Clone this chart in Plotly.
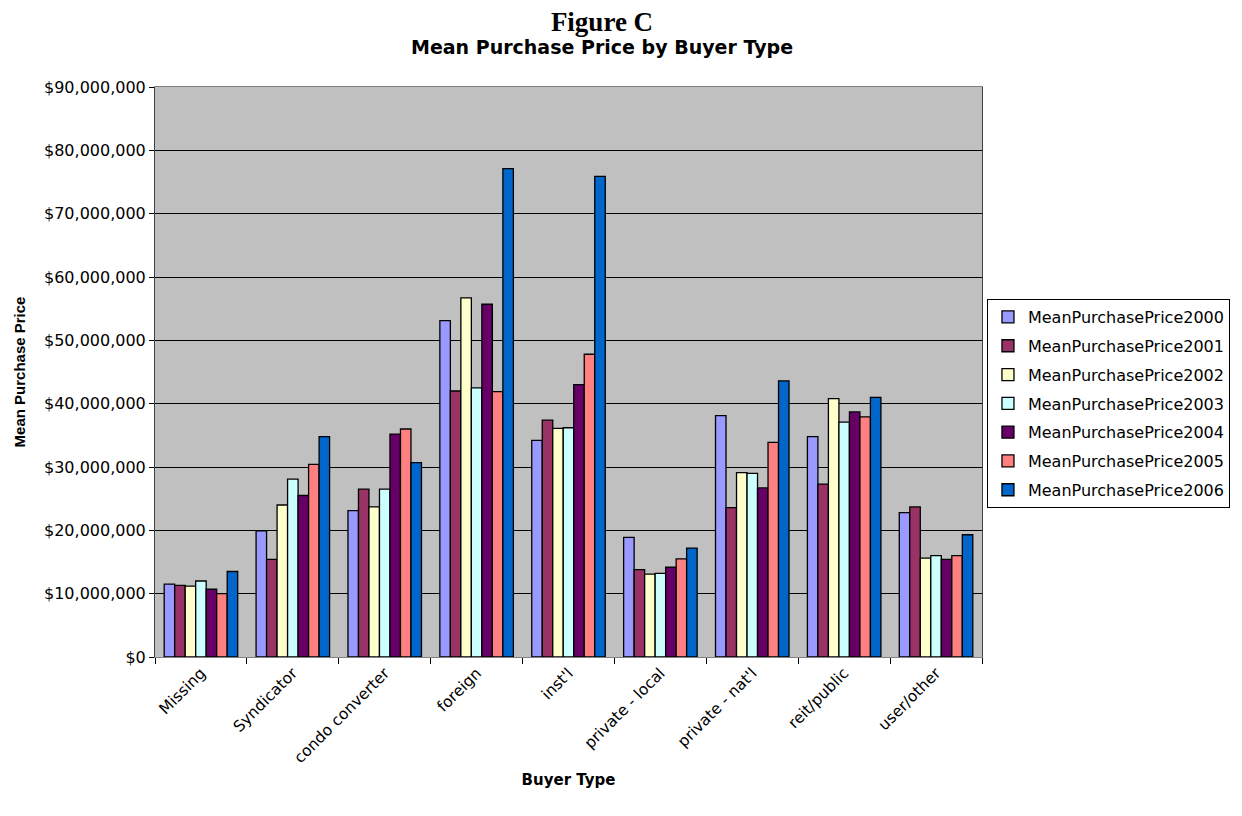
import plotly.graph_objects as go

# Buyer types and mean purchase price per year.
buyer_types = ["Missing", "Syndicator", "condo converter", "foreign", "inst'l",
               "private - local", "private - nat'l", "reit/public", "user/other"]
years = ["2000", "2001", "2002", "2003", "2004", "2005", "2006"]

price_2000 = [11.5e6, 19.9e6, 23.1e6, 53.1e6, 34.2e6, 18.9e6, 38.1e6, 34.8e6, 22.8e6]
price_2001 = [11.3e6, 15.4e6, 26.5e6, 42.0e6, 37.4e6, 13.8e6, 23.6e6, 27.3e6, 23.7e6]
price_2002 = [11.2e6, 24.0e6, 23.7e6, 56.7e6, 36.1e6, 13.1e6, 29.1e6, 40.8e6, 15.6e6]
price_2003 = [12.0e6, 28.1e6, 26.5e6, 42.5e6, 36.2e6, 13.2e6, 29.0e6, 37.1e6, 16.0e6]
price_2004 = [10.7e6, 25.5e6, 35.2e6, 55.7e6, 43.0e6, 14.2e6, 26.7e6, 38.7e6, 15.4e6]
price_2005 = [10.0e6, 30.4e6, 36.0e6, 41.9e6, 47.8e6, 15.5e6, 33.9e6, 37.9e6, 16.0e6]
price_2006 = [13.5e6, 34.8e6, 30.7e6, 77.1e6, 75.9e6, 17.2e6, 43.6e6, 41.0e6, 19.3e6]

series = [price_2000, price_2001, price_2002, price_2003,
          price_2004, price_2005, price_2006]
colors = ["#9999FF", "#993366", "#FFFFCC", "#CCFFFF",
          "#660066", "#FF8080", "#0066CC"]

SANS = "DejaVu Sans, Arial"

fig = go.Figure()
for year, values, color in zip(years, series, colors):
    fig.add_trace(go.Bar(
        x=buyer_types, y=values, name="MeanPurchasePrice" + year,
        legendgroup=year,
        marker=dict(color=color, line=dict(color="black", width=1.3)),
    ))

# page body adds 8px margin, so the figure is 8px smaller than the window
fig.update_layout(
    width=1234, height=808,
    margin=dict(l=145, r=258, t=79, b=159),
    paper_bgcolor="white", plot_bgcolor="#C0C0C0",
    font=dict(family=SANS, size=15, color="black"),
    barmode="group", bargap=0.2, bargroupgap=0,
    showlegend=True,
    legend=dict(
        x=1.006, xanchor="left", y=0.628, yanchor="top",
        bordercolor="black", borderwidth=1, bgcolor="white",
        font=dict(size=16), tracegroupgap=5,
    ),
)

# two-line heading in one annotation so the lines never collide
fig.add_annotation(
    text="<span style='font-family:Liberation Serif, Times New Roman;font-size:27px'>"
         "<b>Figure C</b></span><br>"
         "<span style='font-size:19px'><b>Mean Purchase Price by Buyer Type</b></span>",
    xref="paper", yref="paper", x=0.54, y=1.144, xanchor="center", yanchor="top",
    showarrow=False, align="center",
    font=dict(family=SANS, size=18),
)

fig.update_xaxes(
    title=dict(text="<b>Buyer Type</b>", font=dict(family=SANS, size=15), standoff=8),
    tickangle=-45, tickfont=dict(size=15.5),
    tickson="boundaries", ticks="outside", ticklen=6, tickcolor="black",
    showline=True, linecolor="#808080", mirror=True, linewidth=1,
)
fig.update_yaxes(
    title=dict(text="<b>Mean Purchase Price</b>",
               font=dict(family="Liberation Sans, Arial", size=15), standoff=14),
    range=[0, 90e6], dtick=10e6, tickformat="$,.0f", tickfont=dict(size=16),
    ticks="outside", ticklen=5, tickcolor="black",
    showgrid=True, gridcolor="black", gridwidth=1,
    showline=True, linecolor="#404040", mirror=True, linewidth=1,
    zeroline=False,
)

fig.write_html("out.html")
